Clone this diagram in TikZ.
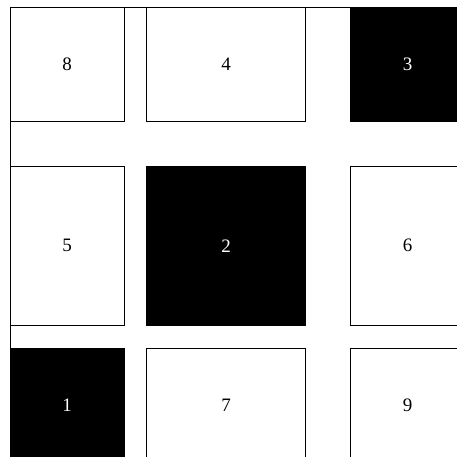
\documentclass[tikz,border=0pt]{standalone}
\usepackage{fontspec}
\setmainfont{Liberation Serif}
\usepackage{tikz}
\usetikzlibrary{positioning}

\begin{document}
\begin{tikzpicture}[
  x=1pt, y=1pt,
  cell/.style={rectangle, draw=black, line width=0.8pt, fill=white,
               inner sep=0pt, outer sep=0pt, text=black,
               font=\fontsize{19}{22}\selectfont},
  filled/.style={cell, fill=black, text=white},
  narrow/.style={minimum width=114pt},
  wide/.style={minimum width=159pt},
  short/.style={minimum height=114pt},
  tall/.style={minimum height=159pt}
]
\useasboundingbox (0,0) rectangle (457,457);
\clip (0,0) rectangle (457,457);
% outer frame, only its top and left edges fall inside the picture
\draw[line width=0.8pt] (10,-20) rectangle (480,449.7);
% top row
\node[cell, narrow, short] (c8) at (67,392.7) {8};
\node[cell, wide, short, right=22.5pt of c8] (c4) {4};
\node[filled, narrow, short, right=45pt of c4] (c3) {3};
% middle row
\node[cell, narrow, tall, below=45pt of c8] (c5) {5};
\node[filled, wide, tall, right=22.5pt of c5] (c2) {2};
\node[cell, narrow, tall, right=45pt of c2] (c6) {6};
% bottom row
\node[filled, narrow, short, below=23pt of c5] (c1) {1};
\node[cell, wide, short, right=22.5pt of c1] (c7) {7};
\node[cell, narrow, short, right=45pt of c7] (c9) {9};
\end{tikzpicture}
\end{document}
